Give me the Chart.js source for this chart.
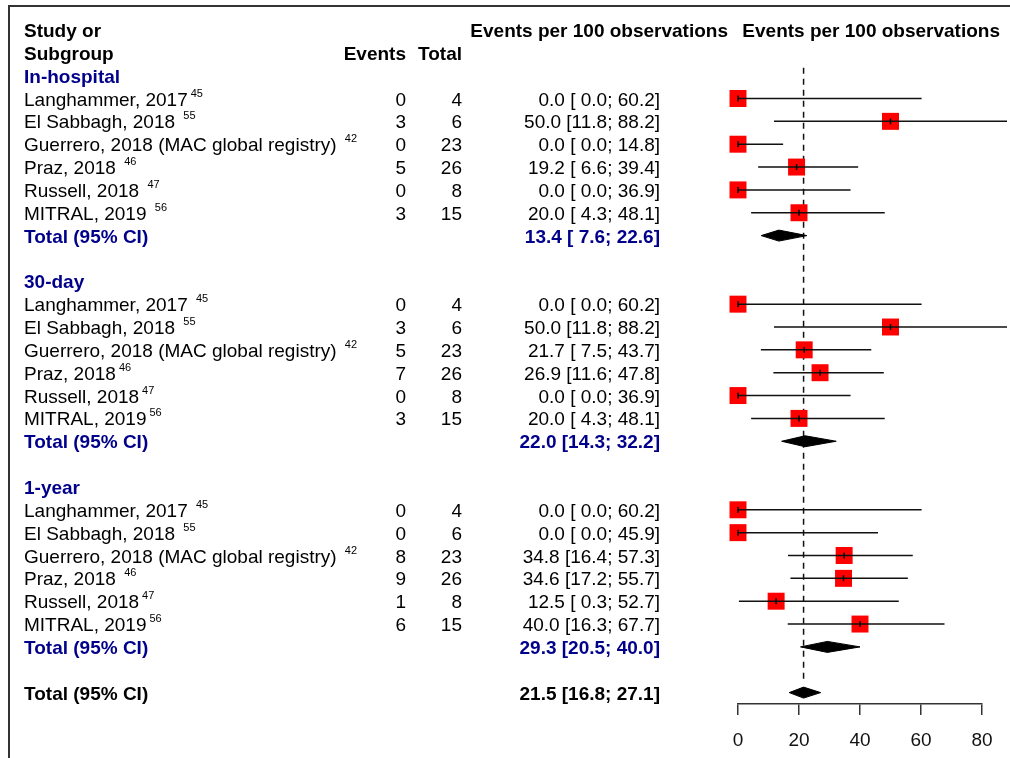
<!DOCTYPE html>
<html lang="en">
<head>
<meta charset="UTF-8">
<title>Events per 100 observations</title>
<script src="https://cdn.jsdelivr.net/npm/chart.js"></script>
<style>
  body { margin: 0; background: #fff; }
  .wrap { width: 1010px; height: 758px; position: relative; }
</style>
</head>
<body>
<div class="wrap"><canvas id="forest"></canvas></div>
<script>
// --- data ---
const groupNames = ['In-hospital', '30-day', '1-year'];
const studyRefs = ['45', '55', '42', '46', '47', '56'];

const inHospitalLabels = ['Langhammer, 2017', 'El Sabbagh, 2018 ', 'Guerrero, 2018 (MAC global registry) ', 'Praz, 2018 ', 'Russell, 2018 ', 'MITRAL, 2019 '];
const inHospitalEvents = [0, 3, 0, 5, 0, 3];
const inHospitalTotals = [4, 6, 23, 26, 8, 15];
const inHospitalEst = [0.0, 50.0, 0.0, 19.2, 0.0, 20.0];
const inHospitalLo = [0.0, 11.8, 0.0, 6.6, 0.0, 4.3];
const inHospitalHi = [60.2, 88.2, 14.8, 39.4, 36.9, 48.1];
const inHospitalPooled = [13.4, 7.6, 22.6];

const day30Labels = ['Langhammer, 2017 ', 'El Sabbagh, 2018 ', 'Guerrero, 2018 (MAC global registry) ', 'Praz, 2018', 'Russell, 2018', 'MITRAL, 2019'];
const day30Events = [0, 3, 5, 7, 0, 3];
const day30Totals = [4, 6, 23, 26, 8, 15];
const day30Est = [0.0, 50.0, 21.7, 26.9, 0.0, 20.0];
const day30Lo = [0.0, 11.8, 7.5, 11.6, 0.0, 4.3];
const day30Hi = [60.2, 88.2, 43.7, 47.8, 36.9, 48.1];
const day30Pooled = [22.0, 14.3, 32.2];

const year1Labels = ['Langhammer, 2017 ', 'El Sabbagh, 2018 ', 'Guerrero, 2018 (MAC global registry) ', 'Praz, 2018 ', 'Russell, 2018', 'MITRAL, 2019'];
const year1Events = [0, 0, 8, 9, 1, 6];
const year1Totals = [4, 6, 23, 26, 8, 15];
const year1Est = [0.0, 0.0, 34.8, 34.6, 12.5, 40.0];
const year1Lo = [0.0, 0.0, 16.4, 17.2, 0.3, 16.3];
const year1Hi = [60.2, 45.9, 57.3, 55.7, 52.7, 67.7];
const year1Pooled = [29.3, 20.5, 40.0];

const overallPooled = [21.5, 16.8, 27.1];
const xTicks = [0, 20, 40, 60, 80];

const headerStudy = ['Study or', 'Subgroup'];
const headerEvents = 'Events';
const headerTotal = 'Total';
const headerEst = 'Events per 100 observations';
const totalLabel = 'Total (95% CI)';

// --- layout ---
const FONT = "'Liberation Sans', Arial, Helvetica, sans-serif";
const BLUE = '#00008B';
const rowPitch = 22.85;
const row0 = 29.95;
const areaTop = 8, areaBottom = 704;

const groups = [
  { name: groupNames[0], labels: inHospitalLabels, events: inHospitalEvents, totals: inHospitalTotals, est: inHospitalEst, lo: inHospitalLo, hi: inHospitalHi, pooled: inHospitalPooled },
  { name: groupNames[1], labels: day30Labels, events: day30Events, totals: day30Totals, est: day30Est, lo: day30Lo, hi: day30Hi, pooled: day30Pooled },
  { name: groupNames[2], labels: year1Labels, events: year1Events, totals: year1Totals, est: year1Est, lo: year1Lo, hi: year1Hi, pooled: year1Pooled }
];
let r = 2;
groups.forEach(g => { g.row = r; r += g.est.length + 3; });
const overallRow = r;

function pad(v) {
  const s = v.toFixed(1);
  return s.length < 4 ? ' ' + s : s;
}
function ciText(e, lo, hi) {
  return e.toFixed(1) + ' [' + pad(lo) + '; ' + pad(hi) + ']';
}
function diamond(p, row) {
  const h = 0.24;
  return [{x: p[1], y: row}, {x: p[0], y: row - h}, {x: p[2], y: row}, {x: p[0], y: row + h}, {x: p[1], y: row}];
}

const squarePts = [], tickPts = [], ciPts = [], diamonds = [];
groups.forEach(g => {
  g.est.forEach((e, i) => {
    const row = g.row + 1 + i;
    squarePts.push({x: e, y: row});
    tickPts.push({x: e, y: row});
    ciPts.push({x: g.lo[i], y: row}, {x: g.hi[i], y: row}, {x: g.hi[i], y: null});
  });
  diamonds.push(diamond(g.pooled, g.row + g.est.length + 1));
});
diamonds.push(diamond(overallPooled, overallRow));

const datasets = [
  { data: tickPts, showLine: false, pointStyle: 'line', rotation: 90, pointRadius: 3, pointBorderWidth: 1.5, pointBorderColor: '#000', order: 0, clip: false },
  { data: ciPts, borderColor: '#111', borderWidth: 1.5, pointRadius: 0, spanGaps: false, order: 1, clip: false },
  { data: squarePts, showLine: false, pointStyle: 'rect', pointRadius: 12, pointBackgroundColor: '#f00', pointBorderWidth: 0, order: 2, clip: false }
];
diamonds.forEach(d => datasets.push({ data: d, borderColor: '#000', borderWidth: 1, backgroundColor: '#000', fill: 'shape', pointRadius: 0, tension: 0, order: 1, clip: false }));
datasets.push({ data: [{x: overallPooled[0], y: 1.65}, {x: overallPooled[0], y: 28.55}], borderColor: '#111', borderWidth: 1.5, borderDash: [6, 5], pointRadius: 0, order: 3, clip: false });

// --- text columns and frame ---
const tablePlugin = {
  id: 'forestTable',
  beforeDraw(chart) {
    const ctx = chart.ctx;
    ctx.save();
    ctx.strokeStyle = '#333';
    ctx.lineWidth = 2;
    ctx.beginPath();
    ctx.moveTo(9, 758); ctx.lineTo(9, 6); ctx.lineTo(1010, 6);
    ctx.stroke();
    ctx.restore();
  },
  afterDraw(chart) {
    const ctx = chart.ctx;
    const ys = chart.scales.y;
    const base = k => ys.getPixelForValue(k) + 7;
    const text = (s, x, k, align, bold, color) => {
      ctx.font = (bold ? 'bold ' : '') + '19px ' + FONT;
      ctx.fillStyle = color || '#000';
      ctx.textAlign = align;
      ctx.fillText(s, x, base(k));
    };
    ctx.save();
    ctx.textBaseline = 'alphabetic';
    text(headerStudy[0], 24, 0, 'left', true);
    text(headerStudy[1], 24, 1, 'left', true);
    text(headerEvents, 406, 1, 'right', true);
    text(headerTotal, 462, 1, 'right', true);
    text(headerEst, 728, 0, 'right', true);
    text(headerEst, 1000, 0, 'right', true);

    groups.forEach(g => {
      text(g.name, 24, g.row, 'left', true, BLUE);
      g.labels.forEach((lab, i) => {
        const k = g.row + 1 + i;
        text(lab, 24, k, 'left', false);
        ctx.font = '19px ' + FONT;
        const w = ctx.measureText(lab).width;
        ctx.font = '11px ' + FONT;
        ctx.textAlign = 'left';
        ctx.fillText(studyRefs[i], 24 + w + 3, base(k) - 9);
        text(String(g.events[i]), 406, k, 'right', false);
        text(String(g.totals[i]), 462, k, 'right', false);
        text(ciText(g.est[i], g.lo[i], g.hi[i]), 660, k, 'right', false);
      });
      const tk = g.row + g.est.length + 1;
      text(totalLabel, 24, tk, 'left', true, BLUE);
      text(ciText(g.pooled[0], g.pooled[1], g.pooled[2]), 660, tk, 'right', true, BLUE);
    });
    text(totalLabel, 24, overallRow, 'left', true);
    text(ciText(overallPooled[0], overallPooled[1], overallPooled[2]), 660, overallRow, 'right', true);
    ctx.restore();
  }
};

new Chart(document.getElementById('forest'), {
  type: 'line',
  data: { datasets: datasets },
  options: {
    responsive: true,
    maintainAspectRatio: false,
    animation: false,
    events: [],
    layout: { autoPadding: false, padding: { top: areaTop, left: 738, right: 28, bottom: 0 } },
    plugins: { legend: { display: false }, tooltip: { enabled: false } },
    scales: {
      x: {
        type: 'linear',
        position: 'bottom',
        min: xTicks[0],
        max: xTicks[xTicks.length - 1],
        afterBuildTicks(scale) { scale.ticks = xTicks.map(v => ({ value: v })); },
        afterFit(scale) { scale.height = 758 - areaBottom; },
        ticks: { color: '#111', padding: 14, font: { family: FONT, size: 19 } },
        grid: { drawOnChartArea: false, drawTicks: true, tickLength: 11, color: '#333', lineWidth: 1.5 },
        border: { color: '#333', width: 1.5 }
      },
      y: {
        type: 'linear',
        display: false,
        reverse: true,
        min: (areaTop - row0) / rowPitch,
        max: (areaBottom - row0) / rowPitch
      }
    }
  },
  plugins: [tablePlugin]
});
</script>
</body>
</html>
